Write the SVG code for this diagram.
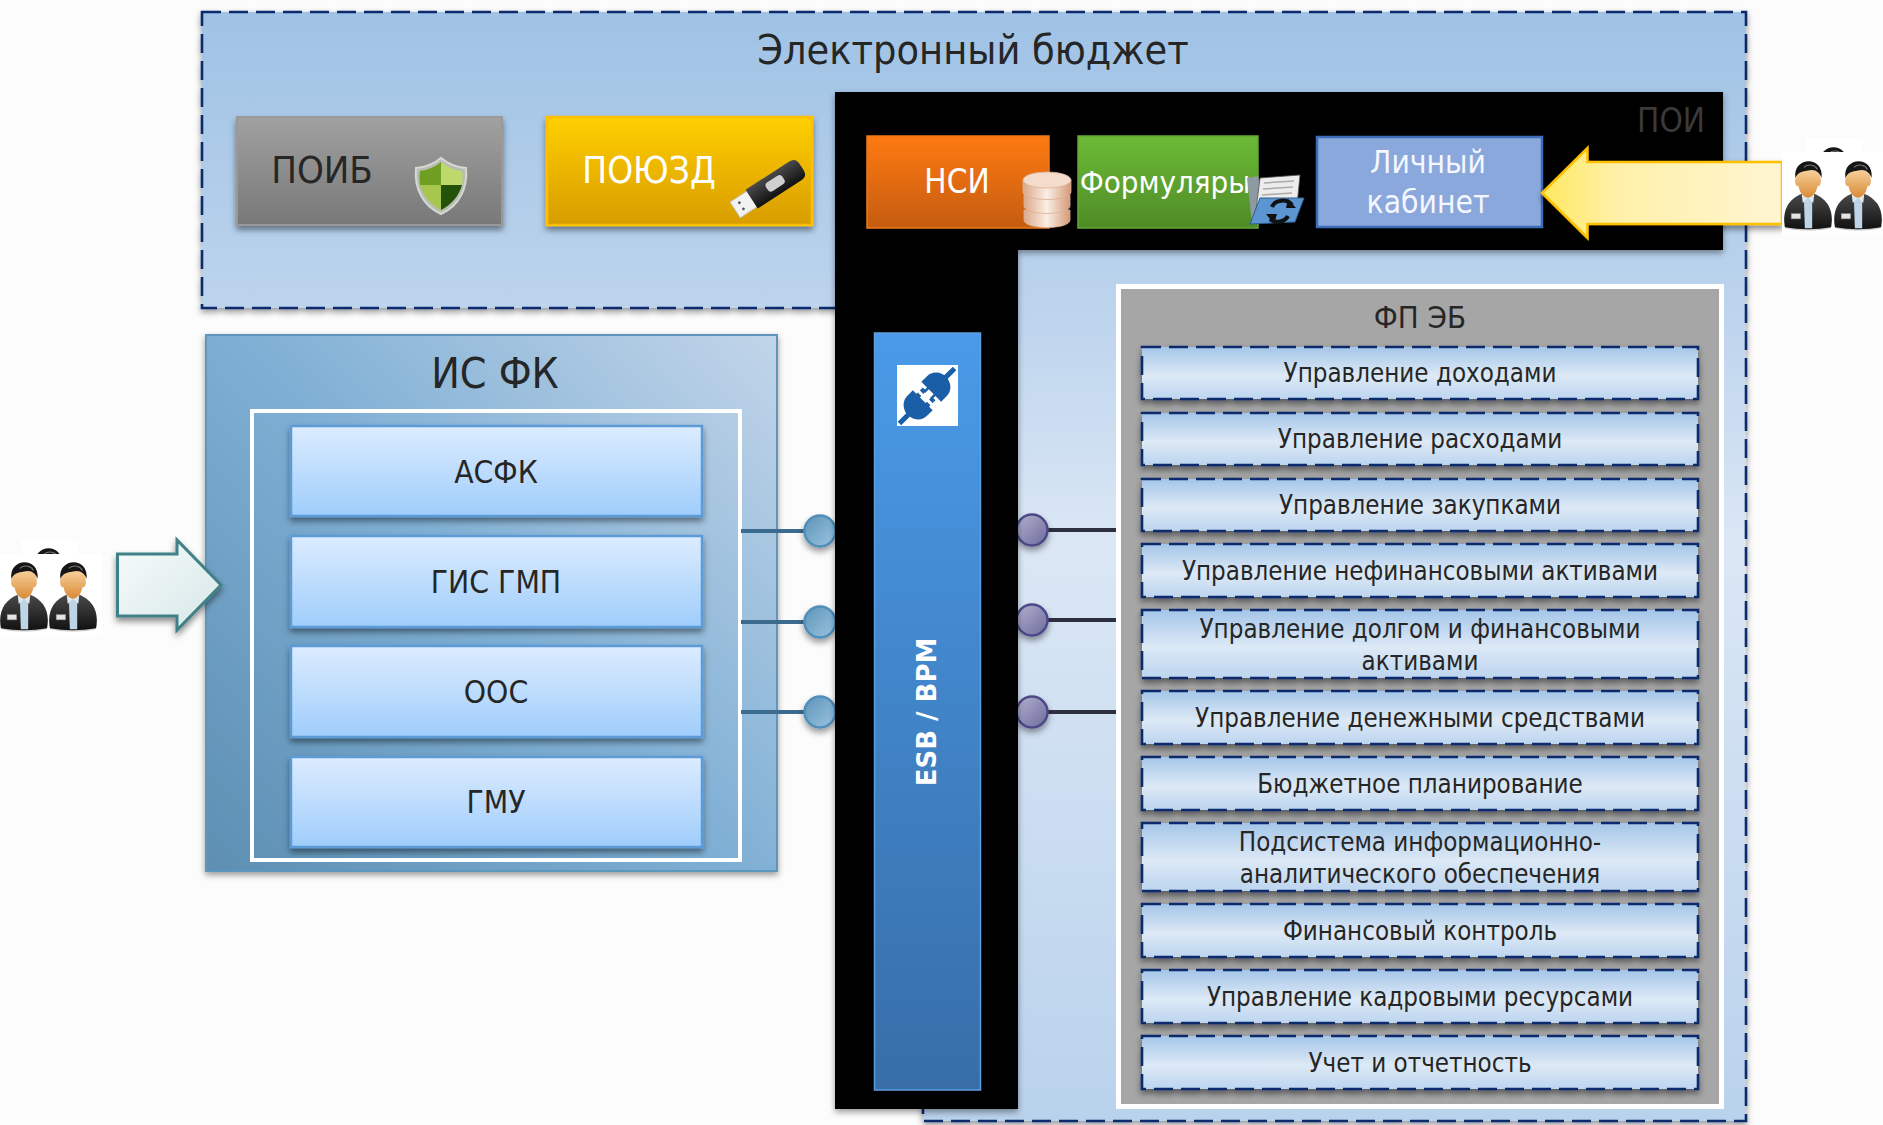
<svg xmlns="http://www.w3.org/2000/svg" width="1883" height="1125" viewBox="0 0 1883 1125">
<style>
text{font-family:"DejaVu Sans Condensed","DejaVu Sans",sans-serif;fill:#262626;text-anchor:middle}
.item{fill:url(#gItem);stroke:#0d2a6c;stroke-width:2.6;stroke-dasharray:19 8;filter:url(#sh)}
.it{font-size:25.7px}
.fk{fill:url(#gFk);stroke:#5b9bd5;stroke-width:2.5;filter:url(#sh)}
.fkt{font-size:31.5px}
.w{fill:#fff}
.wire{stroke-width:4;fill:none}
</style>
<defs>
<filter id="sh" x="-10%" y="-20%" width="120%" height="150%"><feDropShadow dx="0" dy="4" stdDeviation="3" flood-color="#000" flood-opacity=".45"/></filter>
<filter id="shs" x="-30%" y="-30%" width="160%" height="170%"><feDropShadow dx="0" dy="4" stdDeviation="3" flood-color="#000" flood-opacity=".4"/></filter>
<filter id="sh2" x="-3%" y="-3%" width="106%" height="106%"><feDropShadow dx="0" dy="3" stdDeviation="3" flood-color="#000" flood-opacity=".4"/></filter>
<filter id="soft" x="-10%" y="-10%" width="120%" height="120%"><feGaussianBlur stdDeviation=".5"/></filter>
<linearGradient id="gEb" gradientUnits="userSpaceOnUse" x1="0" y1="12" x2="0" y2="1121"><stop offset="0" stop-color="#9fc2e5"/><stop offset=".27" stop-color="#bdd4ed"/><stop offset=".48" stop-color="#dbe7f5"/><stop offset="1" stop-color="#b9d2ec"/></linearGradient>
<linearGradient id="gFk" x1="0" y1="0" x2="0" y2="1"><stop offset="0" stop-color="#dcecff"/><stop offset="1" stop-color="#9fcdfb"/></linearGradient>
<linearGradient id="gIs2" gradientUnits="userSpaceOnUse" x1="206" y1="871" x2="777" y2="335"><stop offset="0" stop-color="#5d8fb3"/><stop offset=".5" stop-color="#7fafd4"/><stop offset="1" stop-color="#c2d5e9"/></linearGradient>
<linearGradient id="gItem" x1="0" y1="0" x2="0" y2="1"><stop offset="0" stop-color="#a4c6e9"/><stop offset=".55" stop-color="#dde9f6"/><stop offset="1" stop-color="#bcd5ef"/></linearGradient>
<linearGradient id="gGray" x1="0" y1="0" x2="0" y2="1"><stop offset="0" stop-color="#a1a1a1"/><stop offset="1" stop-color="#787878"/></linearGradient>
<linearGradient id="gGold" x1="0" y1="0" x2="0" y2="1"><stop offset="0" stop-color="#ffcf00"/><stop offset="1" stop-color="#d89c00"/></linearGradient>
<linearGradient id="gOr" x1="0" y1="0" x2="0" y2="1"><stop offset="0" stop-color="#ff7a12"/><stop offset="1" stop-color="#c45c10"/></linearGradient>
<linearGradient id="gGr" x1="0" y1="0" x2="0" y2="1"><stop offset="0" stop-color="#6cbb36"/><stop offset="1" stop-color="#4f8b26"/></linearGradient>
<linearGradient id="gEsb" x1="0" y1="0" x2="0" y2="1"><stop offset="0" stop-color="#4a9ae8"/><stop offset="1" stop-color="#376ea8"/></linearGradient>
<linearGradient id="gY" x1="0" y1="0" x2="1" y2="0"><stop offset="0" stop-color="#ffe860"/><stop offset=".3" stop-color="#fff0a8"/><stop offset="1" stop-color="#fff5d2"/></linearGradient>
<linearGradient id="gT" x1="0" y1="0" x2="1" y2="1"><stop offset="0" stop-color="#f7fbfb"/><stop offset="1" stop-color="#d6e7e8"/></linearGradient>
<linearGradient id="gC1" x1="0" y1="0" x2="1" y2="1"><stop offset="0" stop-color="#5c94b9"/><stop offset="1" stop-color="#9cc4e0"/></linearGradient>
<linearGradient id="gC2" x1="0" y1="0" x2="1" y2="1"><stop offset="0" stop-color="#b4b2d0"/><stop offset="1" stop-color="#6c6a9c"/></linearGradient>
<linearGradient id="gFace" x1="0" y1="0" x2="0" y2="1"><stop offset="0" stop-color="#f9d6a4"/><stop offset="1" stop-color="#d98a35"/></linearGradient>
<linearGradient id="gJ" x1="0" y1="0" x2="0" y2="1"><stop offset="0" stop-color="#4a4a4a"/><stop offset="1" stop-color="#111"/></linearGradient>
<linearGradient id="gDb" x1="0" y1="0" x2="1" y2="0"><stop offset="0" stop-color="#dca98a"/><stop offset=".5" stop-color="#fbeee4"/><stop offset="1" stop-color="#d49a78"/></linearGradient>
<linearGradient id="gUsb" x1="0" y1="0" x2="0" y2="1"><stop offset="0" stop-color="#4a4a4a"/><stop offset="1" stop-color="#111"/></linearGradient>
<g id="person">
<ellipse cx="0" cy="65" rx="22" ry="3" fill="#ccc" filter="url(#soft)"/>
<path d="M-22 65C-25 48-18 38-6 33L6 33C18 38 25 48 22 65Q0 69-22 65Z" fill="url(#gJ)"/>
<path d="M-4 34L-3 66L4 66L4 34Z" fill="#bdd5e6"/>
<path d="M-6 33L-5 42L0 37L5 42L6 33Z" fill="#dfeaf2"/>
<rect x="-16" y="52" width="9" height="5" fill="#e4e4e4" stroke="#888" stroke-width=".5"/>
<path d="M-12 18C-13 24-11 26-9 26C-8 33-3 37 0 37C3 37 8 33 9 26C11 26 13 24 12 18L10 8L-10 8Z" fill="url(#gFace)"/>
<path d="M-12 18C-15-2 15-4 13 18C11 12 6 9 0 11C-6 12-10 13-12 18Z" fill="#161616"/>
<path d="M-4 8C1 4 7 6 9 10" fill="none" stroke="#777" stroke-width="1"/>
</g>
</defs>
<rect width="1883" height="1125" fill="#fcfcfc"/>

<g id="eb">
<path d="M202 12H1746V1121H923V308H202Z" fill="url(#gEb)" stroke="#0d2a6c" stroke-width="2.6" stroke-dasharray="19 8" filter="url(#sh2)"/>
<text x="973" y="64" font-size="41">Электронный бюджет</text>
</g>

<g id="poib">
<rect x="237" y="117" width="265" height="108" fill="url(#gGray)" stroke="#999" stroke-width="2" filter="url(#sh)"/>
<text x="322" y="183" font-size="38">ПОИБ</text>
<path d="M441 158C448 164 455 167 466 168C468 188 459 206 441 214C423 206 414 188 416 168C427 167 434 164 441 158Z" fill="#b7bdb3" stroke="#d5d9d2" stroke-width="2"/>
<path d="M441 162V185H420Q419 176 420 171C428 170 435 167 441 162Z" fill="#6e9f22"/>
<path d="M441 162C447 167 454 170 462 171Q463 176 462 185H441Z" fill="#bcd96a"/>
<path d="M420 185H441V210C431 205 423 196 420 185Z" fill="#a6c64e"/>
<path d="M462 185H441V210C451 205 459 196 462 185Z" fill="#235208"/>
</g>

<g id="poyuzd">
<rect x="547" y="117" width="265" height="108" fill="url(#gGold)" stroke="#ffc000" stroke-width="2.500" filter="url(#sh)"/>
<text x="649" y="183" font-size="36.700" style="fill:#fff">ПОЮЗД</text>
<g transform="translate(775 184) rotate(-33) scale(.93)">
<rect x="-51" y="-10" width="23" height="20" fill="#f2f2f2" stroke="#c8c8c8"/>
<circle cx="-43" cy="-4" r="1.500" fill="#555"/><circle cx="-43" cy="4" r="1.500" fill="#555"/>
<path d="M-30-12H26Q34-12 34-4V4Q34 12 26 12H-30Z" fill="url(#gUsb)"/>
<rect x="-10" y="-6" width="21" height="11" rx="4" fill="#cfcfcf"/>
</g>
</g>

<g id="isfk">
<rect x="206" y="335" width="571" height="536" fill="url(#gIs2)" stroke="#5d97bd" stroke-width="2" filter="url(#sh2)"/>
<text x="495" y="388" font-size="42.500">ИС ФК</text>
<rect x="252" y="411" width="488" height="449" fill="none" stroke="#fff" stroke-width="4"/>
</g>
<g id="asfk"><rect class="fk" x="291" y="426" width="411" height="90"/><text class="fkt" x="496" y="483">АСФК</text></g>
<g id="gisgmp"><rect class="fk" x="291" y="536" width="411" height="91"/><text class="fkt" x="496" y="593">ГИС ГМП</text></g>
<g id="oos"><rect class="fk" x="291" y="646" width="411" height="91"/><text class="fkt" x="496" y="703">ООС</text></g>
<g id="gmu"><rect class="fk" x="291" y="757" width="411" height="90"/><text class="fkt" x="496" y="813">ГМУ</text></g>

<g id="connectors">
<path class="wire" stroke="#3b6b8e" d="M741 531H806M741 622H806M741 712H806"/>
<path class="wire" stroke="#2e3040" d="M1040 530H1117M1040 620H1117M1040 712H1117"/>
<g stroke="#4f8fb8" stroke-width="2.500" fill="url(#gC1)" filter="url(#shs)"><circle cx="820" cy="531" r="15.500"/><circle cx="820" cy="622" r="15.500"/><circle cx="820" cy="712" r="15.500"/></g>
<g stroke="#4e4a88" stroke-width="2.500" fill="url(#gC2)" filter="url(#shs)"><circle cx="1032" cy="530" r="15.500"/><circle cx="1032" cy="620" r="15.500"/><circle cx="1032" cy="712" r="15.500"/></g>
</g>

<g id="poi">
<path d="M835 92H1723V250H1018V1109H835Z" fill="#000" filter="url(#sh2)"/>
<text x="1671" y="132" font-size="33" style="fill:#3a3a3a">ПОИ</text>
</g>
<g id="nsi">
<rect x="867" y="136" width="182" height="92" fill="url(#gOr)" stroke="#f07a1a" stroke-width="1.500"/>
<text x="957" y="193" font-size="33" style="fill:#fff">НСИ</text>
<g stroke="#d9b095" stroke-width=".8" fill="url(#gDb)">
<path d="M1024 210V220C1024 230 1070 230 1070 220V210Z"/>
<path d="M1024 195V206C1024 216 1070 216 1070 206V195Z"/>
<path d="M1023 180V192C1023 202 1071 202 1071 192V180Z"/>
<ellipse cx="1047" cy="180" rx="24" ry="8" fill="#f3dccb"/>
</g>
</g>
<g id="formy">
<rect x="1078" y="136" width="180" height="92" fill="url(#gGr)" stroke="#62a834" stroke-width="1.500"/>
<text x="1165" y="193" font-size="31" style="fill:#fff">Формуляры</text>
<path d="M1247 178L1258 176L1268 222L1252 224Z" fill="#8e9aa2"/>
<path d="M1260 178L1300 175L1297 205L1256 210Z" fill="#ececec" stroke="#555" stroke-width=".8"/>
<path d="M1264 183L1294 181M1263 189L1293 187M1262 195L1292 193" stroke="#aaa" stroke-width="1.500"/>
<path d="M1260 198H1304L1295 222L1250 224Z" fill="#5c96d2" stroke="#2f5c8c"/>
<path d="M1272 207A11 9 0 0 1 1292 205M1288 216A11 9 0 0 1 1270 219" fill="none" stroke="#111" stroke-width="4"/>
<path d="M1288 199L1296 208L1286 208ZM1274 224L1266 214L1277 214Z" fill="#111"/>
</g>
<g id="lk">
<rect x="1317" y="137" width="225" height="90" fill="#8aa8db" stroke="#3f6cb8" stroke-width="2.500"/>
<text x="1428" y="173" font-size="31.500" style="fill:#f4f7ff">Личный</text>
<text x="1428" y="213" font-size="31.500" style="fill:#f4f7ff">кабинет</text>
</g>

<g id="esb">
<rect x="874.500" y="333" width="106" height="757" fill="url(#gEsb)" stroke="#5c9fe0" stroke-width="1.500"/>
<text transform="translate(936 712) rotate(-90)" font-size="26" font-weight="700" style="font-family:'DejaVu Sans',sans-serif;fill:#fff">ESB / BPM</text>
<rect x="897" y="365" width="61" height="61" fill="#fff"/>
<g transform="translate(927 396) rotate(-45)" fill="#1a5ea8">
<rect x="-39" y="-2.500" width="20" height="5"/><rect x="19" y="-2.500" width="20" height="5"/>
<path d="M-6-14H-14A13 14 0 0 0-14 14H-6Z"/>
<path d="M6-14H14A13 14 0 0 1 14 14H6Z"/>
<rect x="-7" y="-9" width="10" height="5"/><rect x="-7" y="4" width="10" height="5"/>
<rect x="-4" y="-16" width="3" height="32" fill="#fff"/>
<rect x="1" y="-6" width="6" height="2.500"/><rect x="1" y="3.500" width="6" height="2.500"/>
</g>
</g>

<g id="fpeb">
<rect x="1118.500" y="286.500" width="603" height="820" fill="#a6a6a6" stroke="#fff" stroke-width="5"/>
<text x="1420" y="328" font-size="31">ФП ЭБ</text>
</g>
<g id="i1"><rect class="item" x="1142" y="347" width="556" height="52"/><text class="it" x="1420" y="382">Управление доходами</text></g>
<g id="i2"><rect class="item" x="1142" y="413" width="556" height="52"/><text class="it" x="1420" y="448">Управление расходами</text></g>
<g id="i3"><rect class="item" x="1142" y="479" width="556" height="52"/><text class="it" x="1420" y="514">Управление закупками</text></g>
<g id="i4"><rect class="item" x="1142" y="544" width="556" height="53"/><text class="it" x="1420" y="580">Управление нефинансовыми активами</text></g>
<g id="i5"><rect class="item" x="1142" y="610" width="556" height="68"/><text class="it" x="1420" y="638">Управление долгом и финансовыми</text><text class="it" x="1420" y="670">активами</text></g>
<g id="i6"><rect class="item" x="1142" y="691" width="556" height="53"/><text class="it" x="1420" y="727">Управление денежными средствами</text></g>
<g id="i7"><rect class="item" x="1142" y="757" width="556" height="53"/><text class="it" x="1420" y="793">Бюджетное планирование</text></g>
<g id="i8"><rect class="item" x="1142" y="823" width="556" height="68"/><text class="it" x="1420" y="851">Подсистема информационно-</text><text class="it" x="1420" y="883">аналитического обеспечения</text></g>
<g id="i9"><rect class="item" x="1142" y="904" width="556" height="53"/><text class="it" x="1420" y="940">Финансовый контроль</text></g>
<g id="i10"><rect class="item" x="1142" y="970" width="556" height="53"/><text class="it" x="1420" y="1006">Управление кадровыми ресурсами</text></g>
<g id="i11"><rect class="item" x="1142" y="1036" width="556" height="53"/><text class="it" x="1420" y="1072">Учет и отчетность</text></g>

<g id="arrow-left"><path d="M117.500 554H177V540L221 585L177 630V616H117.500Z" fill="url(#gT)" stroke="#3f8087" stroke-width="3" filter="url(#sh)"/></g>
<g id="arrow-right"><path d="M1782 162H1587.500V148L1542 193L1587.500 238V224H1782Z" fill="url(#gY)" stroke="#ffc000" stroke-width="2.500" filter="url(#sh)"/></g>

<g id="users-left">
<rect x="21" y="540" width="57" height="20" class="w"/>
<use href="#person" transform="translate(48 546) scale(1.05)"/>
<rect x="0" y="554" width="102" height="82" class="w"/>
<use href="#person" transform="translate(24 560) scale(1.05)"/>
<use href="#person" transform="translate(73 560) scale(1.05)"/>
</g>
<g id="users-right">
<rect x="1806" y="138" width="57" height="20" class="w"/>
<use href="#person" transform="translate(1833 145) scale(1.05)"/>
<rect x="1782" y="152" width="101" height="83" class="w"/>
<use href="#person" transform="translate(1808 159) scale(1.05)"/>
<use href="#person" transform="translate(1858 159) scale(1.05)"/>
</g>
</svg>
